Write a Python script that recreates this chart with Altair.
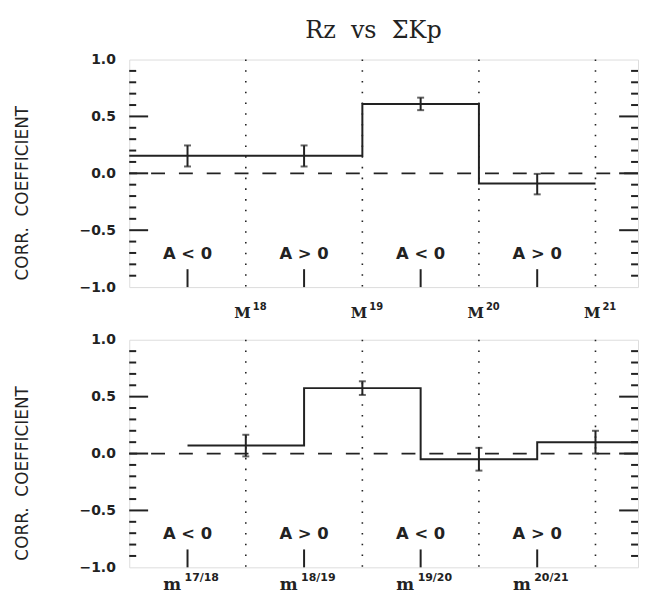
import altair as alt
import pandas as pd

# ---------------- data ----------------
# x unit: one solar cycle, 0 = M17 maximum, 1 = M18, ... 4 = M21
X_MAX = 4.365
seg_edges_top = [0.0, 1.0, 2.0, 3.0, 4.0]
corr_top = [0.155, 0.155, 0.61, -0.09]
err_x_top = [0.5, 1.5, 2.5, 3.5]
err_lo_top = [0.06, 0.06, 0.555, -0.185]
err_hi_top = [0.245, 0.245, 0.665, -0.005]

seg_edges_bot = [0.5, 1.5, 2.5, 3.5, X_MAX]
corr_bot = [0.07, 0.575, -0.05, 0.10]
err_x_bot = [1.0, 2.0, 3.0, 4.0]
err_lo_bot = [-0.025, 0.515, -0.15, 0.0]
err_hi_bot = [0.165, 0.635, 0.05, 0.20]

max_pos = [1.0, 2.0, 3.0, 4.0]
max_sup = ["18", "19", "20", "21"]
min_pos = [0.5, 1.5, 2.5, 3.5]
min_sup = ["17/18", "18/19", "19/20", "20/21"]
polarity = ["A < 0", "A > 0", "A < 0", "A > 0"]

y_major = [-1.0, -0.5, 0.0, 0.5, 1.0]
y_major_inner = [-0.5, 0.0, 0.5]
y_minor = [-0.9, -0.8, -0.7, -0.6, -0.4, -0.3, -0.2, -0.1,
           0.1, 0.2, 0.3, 0.4, 0.6, 0.7, 0.8, 0.9]

# ---------------- styling ----------------
W, H = 512, 229
INK = "#222222"
xs = alt.Scale(domain=[0, X_MAX], nice=False, zero=False)
ys = alt.Scale(domain=[-1, 1], nice=False, zero=False)
yaxis = alt.Axis(values=y_major, format=".1f", tickSize=0, domain=False, grid=False,
                 labelPadding=14, labelFont="DejaVu Sans", labelFontSize=14,
                 labelFontWeight="bold", labelColor=INK,
                 title="CORR.\u00a0\u00a0COEFFICIENT", titleFont="DejaVu Sans",
                 titleFontSize=17, titleFontWeight="normal", titleColor=INK,
                 titlePadding=48, titleY=134)
X = alt.X("x:Q", scale=xs, axis=None)
Y = alt.Y("y:Q", scale=ys, axis=yaxis)


def panel(edges, vals, ex, elo, ehi, lab_pos, lab_main, lab_sup,
          main_dx, sup_dx, main_y, sup_y, main_size, sup_size):
    step_df = pd.DataFrame({"x": edges, "y": vals + [vals[-1]]})
    err_df = pd.DataFrame({"x": ex, "y": elo, "y2": ehi})
    cap_df = pd.DataFrame({"x": ex + ex, "y": elo + ehi})
    dotted = alt.Chart(pd.DataFrame({"x": max_pos})).mark_rule(
        color=INK, strokeWidth=1.6, strokeDash=[1.6, 9.2]).encode(x=X)
    zero = alt.Chart(pd.DataFrame({"y": [0.0]})).mark_rule(
        color=INK, strokeWidth=1.8, strokeDash=[14, 14]).encode(y=Y)
    step = alt.Chart(step_df).mark_line(
        interpolate="step-after", color=INK, strokeWidth=2).encode(x=X, y=Y)
    ebar = alt.Chart(err_df).mark_rule(color=INK, strokeWidth=2).encode(
        x=X, y=Y, y2="y2:Q")
    caps = alt.Chart(cap_df).mark_tick(
        orient="horizontal", size=7, thickness=2, color=INK).encode(x=X, y=Y)
    lmaj = alt.Chart(pd.DataFrame({"y": y_major_inner})).mark_rule(
        color=INK, strokeWidth=2).encode(y=Y, x=alt.value(0), x2=alt.value(19))
    lmin = alt.Chart(pd.DataFrame({"y": y_minor})).mark_rule(
        color=INK, strokeWidth=2).encode(y=Y, x=alt.value(0), x2=alt.value(7))
    rmaj = alt.Chart(pd.DataFrame({"y": y_major_inner})).mark_rule(
        color=INK, strokeWidth=2).encode(y=Y, x=alt.value(W), x2=alt.value(W - 19))
    rmin = alt.Chart(pd.DataFrame({"y": y_minor})).mark_rule(
        color=INK, strokeWidth=2).encode(y=Y, x=alt.value(W), x2=alt.value(W - 7))
    bticks = alt.Chart(pd.DataFrame({"x": min_pos})).mark_rule(
        color=INK, strokeWidth=2).encode(x=X, y=alt.value(H), y2=alt.value(H - 18))
    pol = alt.Chart(pd.DataFrame({"x": min_pos, "t": polarity})).mark_text(
        font="DejaVu Sans", fontWeight="bold", fontSize=16.5, color=INK,
        baseline="middle", align="center").encode(x=X, y=alt.datum(-0.71), text="t:N")
    lab_df = pd.DataFrame({"x": lab_pos, "m": [lab_main] * len(lab_pos), "s": lab_sup})
    lab_m = alt.Chart(lab_df).mark_text(
        font="DejaVu Serif", fontWeight="bold", fontSize=main_size, color=INK,
        align="right", baseline="alphabetic", dx=main_dx).encode(
        x=X, y=alt.value(main_y), text="m:N")
    lab_s = alt.Chart(lab_df).mark_text(
        font="DejaVu Sans", fontWeight="bold", fontSize=sup_size, color=INK,
        align="left", baseline="alphabetic", dx=sup_dx).encode(
        x=X, y=alt.value(sup_y), text="s:N")
    return alt.layer(dotted, zero, step, ebar, caps, lmaj, lmin, rmaj, rmin,
                     bticks, pol, lab_m, lab_s).properties(width=W, height=H)


top = panel(seg_edges_top, corr_top, err_x_top, err_lo_top, err_hi_top,
            max_pos, "M", max_sup, 5, 7, H + 31, H + 23, 15, 10)
bot = panel(seg_edges_bot, corr_bot, err_x_bot, err_lo_bot, err_hi_bot,
            min_pos, "m", min_sup, -6.5, -3, H + 23, H + 14, 17, 11)

chart = alt.vconcat(top, bot, spacing=53, bounds="flush",
                    padding={"left": 4, "top": 9, "right": 0, "bottom": 0},
                    title=alt.Title("Rz\u00a0 vs\u00a0 ΣKp", font="DejaVu Serif",
                                    fontSize=24, fontWeight="normal", color=INK,
                                    anchor="middle", offset=9, dx=46)
                    ).configure_view(stroke=INK, strokeWidth=2
                    ).configure(background="white")

chart.save("out.html", embed_options={"renderer": "svg", "actions": False})
